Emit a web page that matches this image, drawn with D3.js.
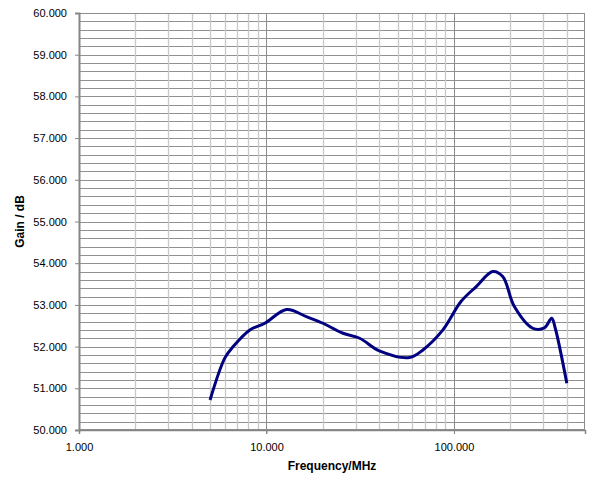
<!DOCTYPE html>
<html>
<head>
<meta charset="utf-8">
<script src="https://cdn.jsdelivr.net/npm/d3@7"></script>
<style>
  body { margin: 0; background: #fff; }
  svg text { font-family: "Liberation Sans", Arial, sans-serif; fill: #000; }
</style>
</head>
<body>
<svg id="chart" width="589" height="479"></svg>
<script>
// Frequency (MHz) and gain (dB).
var freqMHz = [5, 6, 6.64, 8.15, 9.8, 12.8, 16.3, 20, 25.6, 31.4, 40, 58, 68.3, 87.3, 109, 131.5, 161, 182, 210, 263, 304, 332, 347, 400];
var gainDb  = [50.72, 51.73, 52.0, 52.4, 52.56, 52.89, 52.72, 52.56, 52.32, 52.2, 51.9, 51.74, 51.92, 52.4, 53.08, 53.44, 53.8, 53.68, 52.96, 52.44, 52.45, 52.68, 52.44, 51.12];

var xTickValues = [1, 10, 100];
var yTickValues = [50, 51, 52, 53, 54, 55, 56, 57, 58, 59, 60];

var svg = d3.select('#chart');
var margin = { top: 13, left: 79, bottom: 49, right: 4 };
var width = 589 - margin.left - margin.right;
var height = 479 - margin.top - margin.bottom;

var x = d3.scaleLog().domain([1, 500]).range([0, width]);
var y = d3.scaleLinear().domain([50, 60]).range([height, 0]);

var g = svg.append('g')
    .attr('transform', 'translate(' + margin.left + ',' + margin.top + ')');

// Horizontal grid: every 0.2 dB.
var yMinor = d3.range(50.2, 60, 0.2);
g.selectAll('.hgrid').data(yMinor).enter().append('line')
    .attr('x1', 0).attr('x2', width)
    .attr('y1', function(d) { return Math.round(y(d)) + 0.5; })
    .attr('y2', function(d) { return Math.round(y(d)) + 0.5; })
    .attr('stroke', '#919191')
    .attr('stroke-width', 1);

// Vertical grid: 2..9 per decade, darker at the decades.
var xMinor = [];
[1, 10, 100].forEach(function(dec) {
    for(var k = 2; k <= 9; ++k)
        if(dec * k < 500) xMinor.push(dec * k);
});
g.selectAll('.vgrid').data(xMinor).enter().append('line')
    .attr('y1', 0).attr('y2', height)
    .attr('x1', function(d) { return Math.round(x(d)) + 0.5; })
    .attr('x2', function(d) { return Math.round(x(d)) + 0.5; })
    .attr('stroke', '#c8c8c8')
    .attr('stroke-width', 1.3);

g.selectAll('.vmajor').data([10, 100]).enter().append('line')
    .attr('y1', 0).attr('y2', height + 4)
    .attr('x1', function(d) { return Math.round(x(d)) + 0.5; })
    .attr('x2', function(d) { return Math.round(x(d)) + 0.5; })
    .attr('stroke', '#8c8c8c')
    .attr('stroke-width', 1);

// Border.
g.append('rect')
    .attr('x', 0.5).attr('y', 0.5)
    .attr('width', width - 1).attr('height', height - 1)
    .attr('fill', 'none')
    .attr('stroke', '#8c8c8c');

// Axes.
var yAxis = d3.axisLeft(y)
    .tickValues(yTickValues)
    .tickSize(4)
    .tickPadding(8)
    .tickFormat(d3.format('.3f'));
var yG = g.append('g').call(yAxis);
yG.select('.domain').attr('stroke', '#868686').attr('stroke-width', 2);
yG.selectAll('.tick line').attr('stroke', '#868686');
yG.selectAll('text').attr('font-size', '11px');

var xAxis = d3.axisBottom(x)
    .tickValues(xTickValues)
    .tickSize(4)
    .tickPadding(9)
    .tickFormat(d3.format('.3f'));
var xG = g.append('g').attr('transform', 'translate(0,' + height + ')').call(xAxis);
xG.select('.domain').attr('stroke', '#868686').attr('stroke-width', 1.5);
xG.selectAll('.tick line').attr('stroke', '#868686');
xG.selectAll('text').attr('font-size', '11px');

// Curve.
var line = d3.line()
    .x(function(d, i) { return x(freqMHz[i]); })
    .y(function(d) { return y(d); })
    .curve(d3.curveCatmullRom.alpha(0.5));

g.append('path')
    .datum(gainDb)
    .attr('d', line)
    .attr('fill', 'none')
    .attr('stroke', '#000080')
    .attr('stroke-width', 3)
    .attr('stroke-linejoin', 'round');

// Axis titles.
svg.append('text')
    .attr('x', margin.left + width / 2)
    .attr('y', 470)
    .attr('text-anchor', 'middle')
    .attr('font-size', '12px')
    .attr('font-weight', 'bold')
    .text('Frequency/MHz');

svg.append('text')
    .attr('transform', 'translate(24,' + (margin.top + height / 2) + '),rotate(-90)')
    .attr('text-anchor', 'middle')
    .attr('font-size', '12px')
    .attr('font-weight', 'bold')
    .text('Gain / dB');
</script>
</body>
</html>
